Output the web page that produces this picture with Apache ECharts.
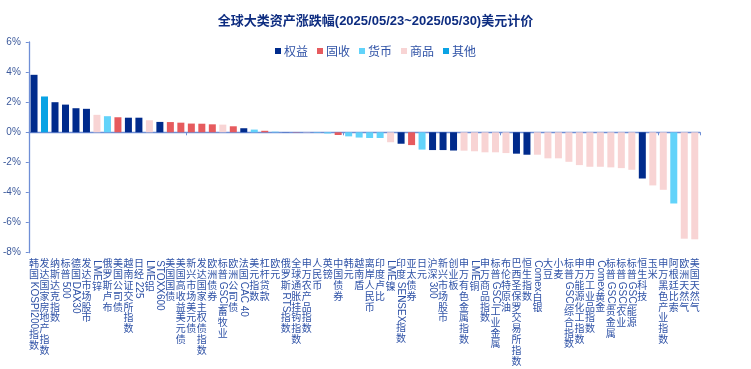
<!DOCTYPE html>
<html>
<head>
<meta charset="utf-8">
<script src="https://cdn.jsdelivr.net/npm/echarts@6/dist/echarts.min.js"></script>
<style>
html,body{margin:0;padding:0;background:#fff;}
#c{width:751px;height:369px;}
</style>
</head>
<body>
<div id="c"></div>
<script>
const categories = [
  "韩国KOSPI200指数","发达国家房地产指数","纳斯达克指数","标普500","德国DAX30","发达市场股市",
  "LME锌","俄罗斯卢布","美国公司债","越南证交所指数","日经225","LME铝","STOXX600",
  "美国国债","美国高收益美元债","新兴市场美元债","发达国家主权债指数","欧洲债券","标普GSCI畜牧业",
  "欧洲公司债","法国CAC 40","美元指数","杠杆贷款","欧元","俄罗斯RTS指数","全球通胀挂钩指数",
  "申万农产品指数","人民币","英镑","中国债券","韩元","越南盾","离岸人民币","印度卢比","LME镍",
  "印度SENSEX指数","亚太债券","日元","沪深300","新兴市场股市","创业板","申万有色金属指数","LME铜",
  "申万商品指数","标普GSCI工业金属","布伦特原油","巴西圣保罗交易所指数","恒生指数","Comex白银",
  "大豆","小麦","标普GSCI综合指数","申万能源化工指数","申万工业品指数","Comex黄金","标普GSCI贵金属",
  "标普GSCI农业","标普GSCI能源","恒生科技","玉米","申万黑色产业指数","阿根廷比索","欧洲天然气","美国天然气"
];
const values = [
  3.82, 2.38, 2.00, 1.84, 1.60, 1.56,
  1.16, 1.07, 1.00, 0.97, 0.97, 0.80, 0.69,
  0.68, 0.64, 0.58, 0.57, 0.53, 0.51,
  0.40, 0.27, 0.18, 0.10, 0.04, 0.01, 0.02,
  -0.02, -0.03, -0.08, -0.18, -0.27, -0.35, -0.38, -0.38, -0.66,
  -0.76, -0.85, -1.15, -1.18, -1.18, -1.21, -1.22, -1.26,
  -1.33, -1.33, -1.38, -1.42, -1.49, -1.49,
  -1.73, -1.73, -1.96, -2.18, -2.29, -2.29, -2.33,
  -2.38, -2.49, -3.07, -3.53, -3.82, -4.73, -7.07, -7.11
];
const groups = [
  "权益","其他","权益","权益","权益","权益",
  "商品","货币","固收","权益","权益","商品","权益",
  "固收","固收","固收","固收","固收","商品",
  "固收","权益","货币","固收","货币","权益","固收",
  "商品","货币","货币","固收","货币","货币","货币","货币","商品",
  "权益","固收","货币","权益","权益","权益","商品","商品",
  "商品","商品","商品","权益","权益","商品",
  "商品","商品","商品","商品","商品","商品","商品",
  "商品","商品","权益","商品","商品","货币","商品","商品"
];
const groupNames = ["权益","固收","货币","商品","其他"];
const yTicks = { min: -8, max: 6, interval: 2 };

const groupColors = { "权益": "#002b8c", "固收": "#e65b5e", "货币": "#62d3fa", "商品": "#f8d4d4", "其他": "#0aa3e4" };
const LABEL_FONT = '10px "Liberation Sans", "Noto Sans CJK SC", sans-serif';
const LABEL_COLOR = '#2f52a6';
const LINE_H = 10.8;
const mctx = document.createElement('canvas').getContext('2d');
mctx.font = LABEL_FONT;

function renderLabel(params, api) {
  const idx = params.dataIndex;
  const p = api.coord([idx, yTicks.min]);
  const x = p[0];
  let y = p[1] + 7;
  const tokens = categories[idx].match(/[A-Za-z0-9 ]+|./g);
  const children = [];
  tokens.forEach(t => {
    if (/^[A-Za-z0-9 ]+$/.test(t)) {
      const w = mctx.measureText(t).width;
      children.push({
        type: 'text', x: x, y: y + 0.5, rotation: -Math.PI / 2,
        style: { text: t, fill: LABEL_COLOR, font: LABEL_FONT, textAlign: 'left', textVerticalAlign: 'middle', align: 'left', verticalAlign: 'middle' }
      });
      y += w + 1.5;
    } else {
      children.push({
        type: 'text', x: x, y: y,
        style: { text: t, fill: LABEL_COLOR, font: LABEL_FONT, textAlign: 'center', textVerticalAlign: 'top', align: 'center', verticalAlign: 'top' }
      });
      y += LINE_H;
    }
  });
  return { type: 'group', children: children };
}

const chart = echarts.init(document.getElementById('c'));
const axisColor = '#6f8fd6';

const barSeries = groupNames.map(g => ({
  name: g,
  type: 'bar',
  stack: 'all',
  barWidth: 7,
  itemStyle: { color: groupColors[g] },
  data: values.map((v, i) => groups[i] === g ? v : '-')
}));

chart.setOption({
  animation: false,
  title: {
    text: '全球大类资产涨跌幅(2025/05/23~2025/05/30)美元计价',
    left: 'center', top: 10,
    textStyle: { fontSize: 13, fontWeight: 'bold', color: '#0d2c80', fontFamily: '"Liberation Sans", "Noto Sans CJK SC", sans-serif' }
  },
  legend: {
    data: groupNames,
    top: 40, left: 'center',
    itemWidth: 6, itemHeight: 6, itemGap: 9,
    icon: 'rect',
    textStyle: { fontSize: 12, color: '#2f52a6', padding: [0, 0, 0, -2], fontFamily: '"Noto Sans CJK SC", sans-serif' }
  },
  grid: { left: 27, right: 51, top: 42, bottom: 116.3, containLabel: false },
  xAxis: {
    type: 'category',
    data: categories,
    axisLine: { onZero: true, lineStyle: { color: axisColor, width: 1.3 } },
    axisTick: { show: true, length: 3, lineStyle: { color: axisColor } },
    axisLabel: { show: false },
    splitLine: { show: false }
  },
  yAxis: {
    type: 'value',
    min: yTicks.min, max: yTicks.max, interval: yTicks.interval,
    axisLine: { show: true, lineStyle: { color: axisColor, width: 1.3 } },
    axisTick: { show: true, length: 3, lineStyle: { color: axisColor } },
    splitLine: { show: false },
    axisLabel: { formatter: '{value}%', fontSize: 10, color: '#3c5a9c', margin: 8, fontFamily: '"Liberation Sans", sans-serif' }
  },
  series: barSeries.concat([{
    name: 'labels',
    type: 'custom',
    silent: true,
    clip: false,
    renderItem: renderLabel,
    data: categories.map((c, i) => [i, yTicks.min]),
    z: 10
  }])
});
</script>
</body>
</html>
